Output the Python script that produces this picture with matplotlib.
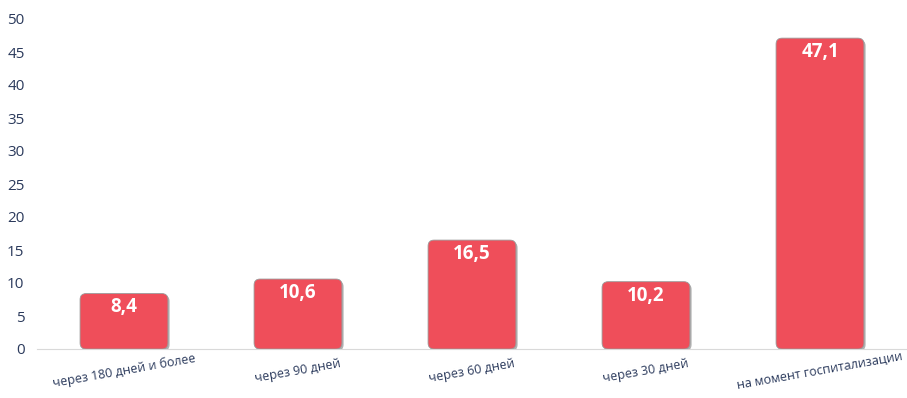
import matplotlib
matplotlib.use('Agg')
import matplotlib.pyplot as plt
import matplotlib.patheffects as pe
from matplotlib.patches import FancyBboxPatch

# Data.
categories = ['через 180 дней и более', 'через 90 дней', 'через 60 дней',
              'через 30 дней', 'на момент госпитализации']
values = [8.4, 10.6, 16.5, 10.2, 47.1]
value_labels = ['8,4', '10,6', '16,5', '10,2', '47,1']

bar_color = '#EF4E5A'
text_color = '#2B3A5C'

plt.rcParams['font.family'] = ['Open Sans', 'DejaVu Sans']

fig = plt.figure(figsize=(9.07, 3.98), dpi=100)
ax = fig.add_axes([37 / 907, 49 / 398, 870 / 907, 330 / 398])

width = 0.505
bars = ax.bar(range(len(values)), values, width=width, color='none')

ax.set_xlim(-0.5, len(values) - 0.5)
ax.set_ylim(0, 50)

# Swap plain bars for rounded boxes with a soft shadow.
x_px = 870 / 5.0
y_px = 330 / 50.0
radius = 6
aspect = (radius / y_px) / (radius / x_px)
for b, lab in zip(bars, value_labels):
    box = FancyBboxPatch((b.get_x(), 0), b.get_width(), b.get_height(),
                         boxstyle='round,pad=0,rounding_size=%f' % (radius / x_px),
                         mutation_aspect=aspect, facecolor=bar_color,
                         edgecolor='#9A9A9A', linewidth=0.6, zorder=3)
    box.set_path_effects([pe.SimplePatchShadow(offset=(1.2, -1.2),
                                               shadow_rgbFace='#666666', alpha=0.5),
                          pe.Normal()])
    ax.add_patch(box)
    ax.annotate(lab, (b.get_x() + b.get_width() / 2, b.get_height()),
                xytext=(0, -10), textcoords='offset points',
                ha='center', va='center', color='white',
                fontsize=13.5, fontweight='bold', zorder=4)

ax.set_xticks(range(len(categories)))
ax.set_xticklabels(categories, rotation=10, rotation_mode='anchor',
                   ha='center', va='center', fontsize=9, color=text_color)
ax.tick_params(axis='x', length=0, pad=16)
ax.set_yticks(range(0, 51, 5))
ax.tick_params(axis='y', length=0, labelsize=11, labelcolor=text_color, pad=9)

for s in ['top', 'right', 'left']:
    ax.spines[s].set_visible(False)
ax.spines['bottom'].set_color('#D9D9D9')
ax.spines['bottom'].set_zorder(1)

fig.savefig('out.png', dpi=100)
